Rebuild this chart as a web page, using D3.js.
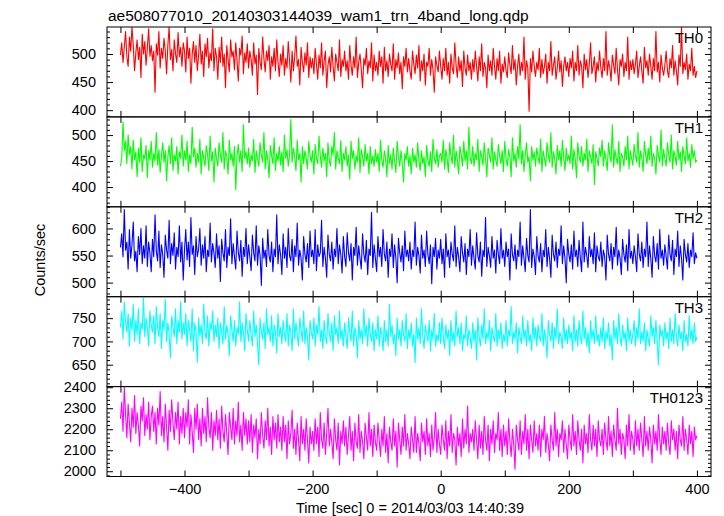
<!DOCTYPE html>
<html><head><meta charset="utf-8">
<script src="https://cdn.jsdelivr.net/npm/d3@7/dist/d3.min.js"></script>
<style>body{margin:0;background:#fff}</style></head>
<body>
<script>
const titleText = "ae508077010_20140303144039_wam1_trn_4band_long.qdp";
const xLabel = "Time [sec] 0 = 2014/03/03 14:40:39";
const yLabel = "Counts/sec";
const seriesNames = ["TH0", "TH1", "TH2", "TH3", "TH0123"];
const timeStart = -500, timeEnd = 400;
const xTickLabels = [-400, -200, 0, 200, 400];

const th0 = [
498,520,485,512,540,495,478,530,505,548,515,470,502,525,490,512,458,535,500,522,480,510,545,496,515,
488,505,432,518,498,540,475,510,492,528,505,465,515,548,490,508,470,525,500,485,538,495,512,478,520,
505,468,530,492,510,448,500,522,485,515,470,498,535,482,505,460,518,495,528,475,502,488,545,470,510,
495,455,512,485,530,478,500,440,515,490,468,525,495,505,472,520,488,452,510,498,532,465,502,485,518,
475,505,490,462,520,482,498,428,510,485,472,530,492,468,505,488,515,455,495,478,510,470,525,485,460,
500,480,515,462,492,475,522,488,450,505,470,495,532,478,490,445,512,485,468,502,480,520,458,495,475,
492,465,510,482,455,498,475,520,462,488,505,440,480,495,468,512,478,452,500,485,470,525,460,490,478,
505,470,488,455,515,480,462,495,475,530,458,485,500,472,440,492,480,510,465,488,475,520,452,498,470,
485,462,505,478,495,448,512,470,488,460,500,482,470,518,455,490,475,502,465,485,438,495,478,510,468,
492,470,455,505,482,465,498,475,515,452,488,470,500,445,485,478,510,462,490,472,432,495,480,468,505,
478,455,492,470,510,462,485,448,500,475,465,520,480,458,495,470,488,442,505,475,462,498,470,485,455,
490,468,505,478,452,495,470,518,460,485,475,440,498,470,488,462,510,478,455,492,470,505,448,482,468,
495,470,458,502,480,465,515,472,490,445,478,500,462,485,470,530,455,488,475,398,492,468,505,478,460,
485,472,510,458,490,465,478,500,448,485,470,522,462,480,495,455,475,505,468,488,442,478,495,470,485,
460,492,475,505,452,485,470,515,462,488,478,440,500,472,490,458,482,520,465,478,495,450,485,470,505,
475,458,492,470,540,462,488,475,452,498,480,465,510,472,445,490,478,500,460,485,470,530,455,488,472,
490,465,482,505,458,478,495,470,448,512,475,488,462,500,478,455,492,470,540,468,485,450,498,475,462,
480,505,470,458,492,475,515,462,488,470,445,498,478,548,465,485,472,500,455,482,470,510,462,478,458,
470];

const th1 = [
440,455,525,470,488,445,500,462,478,435,490,452,468,420,475,448,495,430,462,455,480,418,470,452,488,
438,465,450,505,442,472,428,460,485,448,470,412,458,480,445,495,432,462,450,478,425,468,455,500,440,
470,452,488,430,462,445,515,458,475,438,465,448,492,425,470,455,440,480,462,432,498,450,468,410,475,
455,440,485,462,448,505,435,470,458,425,490,452,465,440,478,395,460,482,448,470,430,520,455,468,445,
475,438,462,450,492,428,470,455,440,485,462,448,505,435,470,452,418,480,460,445,495,432,465,450,478,
442,468,430,500,455,472,440,462,530,448,475,458,432,490,452,465,410,478,445,470,455,435,488,460,448,
470,425,482,455,445,498,460,438,475,450,465,420,485,452,440,478,462,505,435,470,455,445,490,430,465,
452,478,440,462,415,488,455,470,435,460,448,495,428,472,458,440,482,450,465,425,478,445,460,440,472,
448,465,430,490,452,438,470,455,420,480,445,462,435,475,450,428,488,458,440,470,445,410,465,452,478,
440,460,425,475,448,462,438,485,450,432,470,445,458,420,480,452,440,468,430,492,455,445,472,438,460,
465,448,490,435,472,455,428,485,460,445,500,438,470,452,425,478,462,440,488,450,470,435,515,455,445,
478,440,465,452,492,430,470,458,442,485,455,420,475,462,448,495,435,468,452,440,482,460,445,470,430,
488,455,440,472,458,420,495,450,465,438,478,455,520,445,470,430,462,485,448,458,412,478,452,468,440,
475,458,445,492,430,470,455,440,485,462,448,505,438,468,455,425,480,452,470,440,490,458,432,475,450,
462,445,498,435,472,455,418,485,460,448,478,440,465,452,492,430,470,458,445,482,405,468,455,440,475,
458,490,440,470,452,432,485,460,448,520,438,472,455,445,488,430,465,458,440,478,452,498,435,470,455,
442,482,460,448,505,438,470,455,430,488,462,445,475,452,498,440,465,455,425,480,460,448,510,440,472,
455,440,485,462,448,500,435,470,458,442,488,452,468,430,478,460,445,495,450,465,438,482,455,470,448,
452];

const th2 = [
565,590,548,635,560,575,525,598,545,570,612,540,558,520,585,552,600,535,568,545,605,530,575,555,520,
580,548,625,558,540,595,528,570,552,510,588,560,545,615,535,572,550,592,525,565,548,605,538,575,505,
560,598,542,575,530,620,552,568,515,585,548,562,600,532,570,545,585,520,560,548,610,538,572,555,528,
590,545,568,502,580,555,540,598,528,565,550,618,535,572,548,525,595,555,540,578,512,565,548,600,535,
570,548,522,588,555,540,605,532,568,550,495,582,545,560,530,598,550,538,575,520,562,548,625,535,570,
552,515,590,545,565,528,600,550,540,580,520,568,548,610,532,560,545,505,585,552,538,572,528,595,548,
560,535,598,522,570,548,555,615,530,565,545,510,588,552,540,575,525,562,548,600,535,570,552,518,585,
548,530,592,555,540,572,505,565,550,602,532,568,545,525,590,552,538,578,515,562,550,630,528,570,545,
520,585,548,565,530,598,552,540,575,510,562,548,590,528,570,545,500,582,555,538,568,522,595,548,560,
540,575,525,560,548,612,532,565,550,518,588,545,560,530,595,552,535,570,498,565,548,582,525,560,545,
580,535,562,510,590,548,560,528,575,552,540,605,530,565,548,520,585,555,538,572,515,562,548,598,532,
568,545,525,592,550,538,575,512,560,548,620,530,565,550,528,585,545,560,518,578,552,535,600,545,560,
530,575,548,562,505,590,552,540,570,525,560,548,612,532,568,545,520,582,550,538,635,528,562,548,515,
585,550,538,572,520,560,548,598,530,565,545,510,588,552,540,575,528,562,550,605,535,568,545,500,580,
552,538,570,525,595,548,560,530,578,545,520,612,538,565,550,528,585,548,562,535,592,520,568,548,540,
575,530,560,548,505,588,552,540,572,525,565,548,602,532,560,545,515,580,552,538,570,522,598,545,558,
535,568,548,520,590,552,540,575,528,562,548,612,530,568,545,510,585,550,538,572,525,598,545,560,532,
570,548,525,588,552,540,578,515,562,548,595,530,568,545,505,580,552,538,572,528,560,548,592,535,555,
545];

const th3 = [
730,765,705,785,740,720,760,690,750,725,780,700,745,715,770,695,740,725,795,710,750,730,690,765,735,
720,755,695,775,730,710,760,685,745,725,790,700,740,715,665,755,730,710,770,695,745,720,785,705,740,
715,760,690,745,725,700,770,680,740,720,655,750,712,735,695,780,720,705,755,690,740,725,765,700,735,
710,750,685,740,720,695,775,705,735,715,670,755,725,700,745,690,730,715,785,700,740,720,680,760,725,
700,745,715,690,765,710,735,695,650,750,720,705,740,685,770,715,730,700,755,690,735,720,675,760,710,
730,695,745,715,700,760,690,735,720,680,770,705,740,715,690,750,725,700,765,695,730,710,660,745,720,
705,750,690,735,715,775,700,725,685,745,710,695,760,720,700,740,680,755,715,730,695,765,705,725,690,
740,710,685,750,720,700,765,690,730,715,665,745,705,725,695,770,710,735,690,750,715,700,740,680,725,
705,755,690,730,715,680,745,700,725,690,780,710,735,695,715,670,750,705,725,690,745,715,700,760,685,
725,705,740,690,715,655,750,705,730,695,770,710,685,735,715,700,745,680,725,705,760,690,715,700,740,
695,750,710,685,735,705,725,670,745,700,720,690,765,710,730,695,740,680,715,705,755,690,725,710,685,
740,700,725,660,750,710,690,735,705,770,695,720,705,745,680,730,710,700,760,690,725,705,740,685,715,
700,745,690,725,710,775,695,720,705,740,675,730,710,695,755,705,725,690,745,700,715,680,750,705,730,
690,735,710,700,760,690,725,705,665,745,715,700,740,685,730,705,770,695,720,710,685,750,700,725,695,
735,705,720,680,755,700,725,690,745,710,695,765,705,730,690,720,675,745,705,725,695,755,700,715,690,
730,700,750,685,720,705,740,690,715,660,745,705,730,695,760,710,690,735,705,720,680,750,700,725,695,
715,745,690,730,705,770,695,720,700,740,680,725,705,690,755,710,730,695,745,700,650,735,710,725,690,
740,705,720,685,750,700,725,695,760,710,690,735,705,720,680,745,700,715,690,755,705,725,695,740,700,
710];

const th0123 = [
2250,2330,2190,2400,2270,2160,2320,2230,2140,2300,2210,2360,2180,2280,2220,2120,2310,2240,2350,2170,2270,2200,2330,2150,2260,
2310,2190,2280,2130,2300,2220,2380,2170,2260,2140,2320,2210,2100,2290,2190,2340,2230,2150,2280,2200,2330,2130,2260,2180,2300,
2160,2280,2210,2340,2130,2270,2190,2090,2300,2200,2320,2150,2250,2120,2300,2180,2260,2140,2350,2210,2160,2280,2100,2240,2170,
2290,2150,2250,2110,2310,2190,2140,2270,2180,2080,2280,2210,2150,2300,2130,2240,2170,2330,2140,2220,2100,2280,2170,2250,2130,
2240,2140,2270,2090,2220,2160,2250,2060,2200,2130,2280,2170,2110,2240,2150,2300,2120,2210,2080,2260,2150,2230,2110,2270,2140,
2210,2100,2260,2140,2220,2060,2240,2130,2180,2290,2110,2200,2080,2230,2150,2050,2260,2130,2200,2100,2250,2150,2040,2210,2130,
2190,2100,2250,2130,2210,2070,2280,2150,2110,2230,2080,2180,2300,2120,2200,2140,2060,2250,2150,2100,2230,2030,2190,2130,2240,
2120,2210,2080,2170,2260,2100,2190,2050,2230,2140,2110,2270,2090,2190,2140,2060,2230,2160,2100,2280,2120,2200,2070,2220,2140,
2100,2230,2150,2070,2200,2120,2260,2090,2180,2040,2210,2140,2100,2250,2120,2190,2020,2230,2150,2080,2210,2120,2270,2100,2180,
2130,2060,2210,2150,2090,2260,2090,2180,2130,2050,2230,2140,2190,2080,2250,2120,2180,2070,2220,2100,2160,2280,2090,2200,2130,
2080,2220,2150,2100,2240,2060,2190,2120,2270,2090,2180,2150,2030,2210,2120,2180,2070,2250,2110,2200,2130,2310,2090,2180,2140,
2200,2100,2240,2150,2060,2220,2110,2190,2080,2260,2150,2100,2220,2050,2200,2130,2240,2090,2180,2150,2280,2100,2200,2070,2220,
2120,2190,2080,2250,2140,2070,2200,2130,2010,2220,2150,2100,2240,2080,2190,2130,2270,2100,2200,2060,2220,2150,2090,2240,2120,
2180,2100,2220,2070,2200,2150,2260,2090,2180,2130,2050,2220,2150,2100,2280,2120,2200,2070,2180,2150,2240,2090,2200,2130,2060,
2220,2150,2100,2270,2120,2190,2080,2240,2150,2100,2200,2040,2220,2130,2180,2090,2270,2150,2100,2220,2120,2200,2070,2240,2150,
2120,2200,2080,2230,2150,2100,2260,2120,2190,2070,2220,2150,2100,2300,2130,2200,2080,2180,2150,2060,2220,2120,2270,2100,2190,
2150,2080,2240,2120,2200,2100,2230,2150,2070,2260,2120,2190,2100,2210,2150,2040,2220,2130,2190,2100,2270,2150,2080,2210,2130,
2190,2100,2230,2130,2080,2240,2150,2200,2100,2190,2060,2220,2150,2120,2260,2100,2200,2150,2080,2220,2130,2190,2070,2210,2150,
2170];

// y-axis tick labels per panel
const yTicks0 = [400, 450, 500];
const yTicks1 = [400, 450, 500];
const yTicks2 = [500, 550, 600];
const yTicks3 = [650, 700, 750];
const yTicks4 = [2000, 2100, 2200, 2300, 2400];

// ---- layout / style ----
const W = 724, H = 516;
const mLeft = 107, mRight = 711, mTop = 27, mBottom = 476.5;
const FONT = "'Liberation Sans', Arial, Helvetica, sans-serif";
const panelCfg = [
  {data: th0, color: "#ff0000", domain: [388, 548], major: 50, minor: 10, labels: yTicks0},
  {data: th1, color: "#00ff00", domain: [362, 535], major: 50, minor: 10, labels: yTicks1},
  {data: th2, color: "#0000ff", domain: [474, 640], major: 50, minor: 10, labels: yTicks2},
  {data: th3, color: "#00ffff", domain: [603, 796], major: 50, minor: 10, labels: yTicks3},
  {data: th0123, color: "#ff00ff", domain: [1975, 2403], major: 100, minor: 20, labels: yTicks4}
];
const panelH = (mBottom - mTop) / panelCfg.length;

const svg = d3.select("body").append("svg").attr("width", W).attr("height", H)
  .style("font-family", FONT);

const x = d3.scaleLinear().domain([-521, 422]).range([mLeft, mRight]);
const xMajor = d3.range(-500, 401, 100);

svg.append("text").attr("x", 108).attr("y", 21).attr("font-size", 15.5)
  .attr("fill", "#000").text(titleText);

panelCfg.forEach((p, i) => {
  const y0 = mTop + i * panelH, y1 = y0 + panelH;
  const y = d3.scaleLinear().domain(p.domain).range([y1, y0]);
  const g = svg.append("g");
  const clipId = "clip" + i;
  svg.append("clipPath").attr("id", clipId).append("rect")
    .attr("x", mLeft).attr("y", y0).attr("width", mRight - mLeft).attr("height", panelH);

  const n = p.data.length;
  const pts = p.data.map((v, k) => [timeStart + k * (timeEnd - timeStart) / (n - 1), v]);
  const line = d3.line().x(d => x(d[0])).y(d => y(d[1]));
  g.append("path").attr("clip-path", `url(#${clipId})`)
    .attr("d", line(pts)).attr("fill", "none").attr("stroke", p.color)
    .attr("stroke-width", 1.1).attr("stroke-linejoin", "round");

  const lo = Math.ceil(p.domain[0] / p.minor) * p.minor;
  const minors = d3.range(lo, p.domain[1] + 0.001, p.minor).filter(v => v % p.major !== 0);
  const majors = d3.range(Math.ceil(p.domain[0] / p.major) * p.major, p.domain[1] + 0.001, p.major);

  const styleAxis = a => { a.select(".domain").remove(); a.selectAll("line").attr("stroke", "#000"); };

  g.append("g").attr("transform", `translate(${mLeft},0)`)
    .call(d3.axisLeft(y).tickValues(majors).tickSize(-6).tickPadding(11)
      .tickFormat(v => p.labels.includes(v) ? String(v) : ""))
    .call(styleAxis)
    .call(a => a.selectAll("text").attr("font-size", 14.5).attr("font-family", FONT).attr("fill", "#000"));
  g.append("g").attr("transform", `translate(${mLeft},0)`)
    .call(d3.axisLeft(y).tickValues(minors).tickSize(-3).tickFormat(""))
    .call(styleAxis);
  g.append("g").attr("transform", `translate(${mRight},0)`)
    .call(d3.axisRight(y).tickValues(majors).tickSize(-6).tickFormat(""))
    .call(styleAxis);
  g.append("g").attr("transform", `translate(${mRight},0)`)
    .call(d3.axisRight(y).tickValues(minors).tickSize(-3).tickFormat(""))
    .call(styleAxis);

  g.append("g").attr("transform", `translate(0,${y0})`)
    .call(d3.axisTop(x).tickValues(xMajor).tickSize(-6).tickFormat(""))
    .call(styleAxis);
  const bot = g.append("g").attr("transform", `translate(0,${y1})`)
    .call(d3.axisBottom(x).tickValues(xMajor).tickSize(-6).tickPadding(7)
      .tickFormat(v => (i === panelCfg.length - 1 && xTickLabels.includes(v)) ? String(v).replace("-", "\u2212") : ""))
    .call(styleAxis);
  bot.selectAll("text").attr("font-size", 14.5).attr("font-family", FONT).attr("fill", "#000");

  g.append("rect").attr("x", mLeft).attr("y", y0).attr("width", mRight - mLeft).attr("height", panelH)
    .attr("fill", "none").attr("stroke", "#000").attr("stroke-width", 1);

  g.append("text").attr("x", 703).attr("y", y0 + 16).attr("text-anchor", "end")
    .attr("font-size", 15).attr("fill", "#000").text(seriesNames[i]);
});

svg.append("text").attr("transform", `translate(45,260) rotate(-90)`)
  .attr("text-anchor", "middle").attr("font-size", 14.5).attr("fill", "#000").text(yLabel);

svg.append("text").attr("x", 410).attr("y", 513).attr("text-anchor", "middle")
  .attr("font-size", 14.5).attr("fill", "#000").text(xLabel);
</script>
</body></html>
